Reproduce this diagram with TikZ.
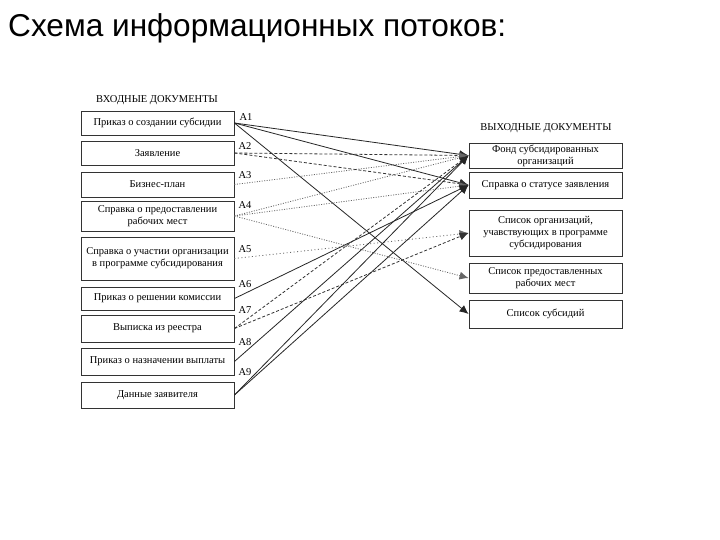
\documentclass[tikz,border=0pt]{standalone}
\usepackage{fontspec}
\setmainfont{Liberation Serif}
\newfontfamily\titlefont{Liberation Sans}
\usetikzlibrary{arrows.meta}
\begin{document}
\begin{tikzpicture}[x=1pt,y=-1pt,
 doc/.style={draw=black!80, line width=0.9pt, minimum width=153pt, inner sep=1pt, align=center, font=\fontsize{10.5}{12}\selectfont, anchor=center},
 hdr/.style={font=\fontsize{10.5}{12}\selectfont, inner sep=0pt},
 lab/.style={font=\fontsize{10.5}{12}\selectfont, inner sep=0pt},
 flow/.style={line width=0.8pt, -{Latex[length=9pt,width=8pt]}},
 sol/.style={flow, black!85},
 dsh/.style={flow, black!80, dash pattern=on 3pt off 2pt},
 dtt/.style={flow, black!60, dash pattern=on 1pt off 1.5pt},
 dtw/.style={flow, black!60, dash pattern=on 1pt off 2.5pt},
]
\fill[white] (0,0) rectangle (720,540);
\useasboundingbox (0,0) rectangle (720,540);

\node[anchor=base west, inner sep=0pt, font=\titlefont\fontsize{31.6}{32}\selectfont] (title) at (8,37) {Схема информационных потоков:};

\node[hdr] (hin) at (157,100) {ВХОДНЫЕ ДОКУМЕНТЫ};
\node[hdr] (hout) at (546,128) {ВЫХОДНЫЕ ДОКУМЕНТЫ};

% input documents
\node[doc, minimum height=24pt] (i1) at (157.5,123) {Приказ о создании субсидии};
\node[doc, minimum height=24pt] (i2) at (157.5,153) {Заявление};
\node[doc, minimum height=25pt] (i3) at (157.5,184.5) {Бизнес-план};
\node[doc, minimum height=30pt] (i4) at (157.5,216) {Справка о предоставлении\\рабочих мест};
\node[doc, minimum height=43pt] (i5) at (157.5,258.5) {Справка о участии организации\\в программе субсидирования};
\node[doc, minimum height=23pt] (i6) at (157.5,298.5) {Приказ о решении комиссии};
\node[doc, minimum height=27pt] (i7) at (157.5,328.5) {Выписка из реестра};
\node[doc, minimum height=27pt] (i8) at (157.5,361.5) {Приказ о назначении выплаты};
\node[doc, minimum height=26pt] (i9) at (157.5,395) {Данные заявителя};

% labels
\node[lab] (a1) at (246,117) {A1};
\node[lab] (a2) at (245,146) {A2};
\node[lab] (a3) at (245,175) {A3};
\node[lab] (a4) at (245,205) {A4};
\node[lab] (a5) at (245,249) {A5};
\node[lab] (a6) at (245,284) {A6};
\node[lab] (a7) at (245,310) {A7};
\node[lab] (a8) at (245,342) {A8};
\node[lab] (a9) at (245,372) {A9};

% output documents
\node[doc, minimum height=25pt] (o1) at (545.5,155.5) {Фонд субсидированных\\организаций};
\node[doc, minimum height=26pt] (o2) at (545.5,185) {Справка о статусе заявления};
\node[doc, minimum height=46pt] (o3) at (545.5,233) {Список организаций,\\учавствующих в программе\\субсидирования};
\node[doc, minimum height=30pt] (o4) at (545.5,278) {Список предоставленных\\рабочих мест};
\node[doc, minimum height=28pt] (o5) at (545.5,314) {Список субсидий};

% flows
\draw[sol] (i1.east) -- (o1.west);
\draw[sol] (i1.east) -- (o2.west);
\draw[sol] (i1.east) -- (o5.west);
\draw[dsh] (i2.east) -- (o1.west);
\draw[dsh] (i2.east) -- (o2.west);
\draw[dtt] (i3.east) -- (o1.west);
\draw[dtt] (i4.east) -- (o1.west);
\draw[dtt] (i4.east) -- (o2.west);
\draw[dtt] (i4.east) -- (o4.west);
\draw[dtw] (i5.east) -- (o3.west);
\draw[sol] (i6.east) -- (o2.west);
\draw[dsh] (i7.east) -- (o1.west);
\draw[dsh] (i7.east) -- (o3.west);
\draw[sol] (i8.east) -- (o1.west);
\draw[sol] (i9.east) -- (o1.west);
\draw[sol] (i9.east) -- (o2.west);
\end{tikzpicture}
\end{document}
